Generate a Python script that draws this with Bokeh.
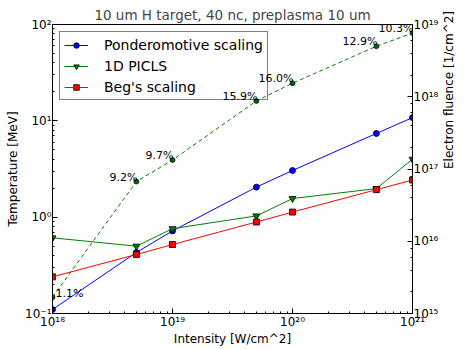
import math
from bokeh.plotting import figure
from bokeh.models import (Range1d, LogScale, LogAxis, Legend, LegendItem,
                          CustomJSTickFormatter, ColumnDataSource, LabelSet, Label)
from bokeh.core.properties import value
from bokeh.embed import file_html
from bokeh.resources import INLINE

# ---- data ----
intensity = [1e18, 5e18, 1e19, 5e19, 1e20, 5e20, 1e21]
ponderomotive = [0.11, 0.43, 0.72, 2.05, 3.05, 7.4, 10.8]
picls = [0.61, 0.50, 0.76, 1.03, 1.56, 1.98, 4.0]
beg = [0.24, 0.41, 0.52, 0.89, 1.13, 1.93, 2.43]
fluence = [1.68e15, 6.7e16, 1.33e17, 8.75e17, 1.54e18, 5.0e18, 7.6e18]
fraction_labels = ["1.1%", "9.2%", "9.7%", "15.9%", "16.0%", "12.9%", "10.3%"]

FONT = "DejaVu Sans"

sup_js = """
const e = Math.round(Math.log10(tick));
const sup = {"-":"\u207b","0":"\u2070","1":"\u00b9","2":"\u00b2","3":"\u00b3","4":"\u2074",
             "5":"\u2075","6":"\u2076","7":"\u2077","8":"\u2078","9":"\u2079"};
return "10" + String(e).split("").map(c => sup[c]).join("");
"""

p = figure(width=466, height=348, x_axis_type="log", y_axis_type="log",
           x_range=Range1d(1e18, 1e21), y_range=Range1d(0.1, 100),
           output_backend="svg", toolbar_location=None,
           title="10 um H target, 40 nc, preplasma 10 um",
           min_border_left=52, min_border_right=39, min_border_top=24, min_border_bottom=34)
p.extra_y_ranges = {"fluence": Range1d(1e15, 1e19)}
p.extra_y_scales = {"fluence": LogScale()}

p.title.align = "center"
p.title.text_font = FONT
p.title.text_font_size = "13.5px"
p.title.text_font_style = "normal"
p.title.standoff = 3
p.title.offset = 0

p.grid.visible = False
p.outline_line_color = "black"
p.background_fill_color = "white"
p.border_fill_color = "white"

fmt = CustomJSTickFormatter(code=sup_js)

def style_axis(ax):
    ax.major_tick_in = 5
    ax.major_tick_out = 0
    ax.minor_tick_in = 2
    ax.minor_tick_out = 0
    ax.axis_line_color = "black"
    ax.major_tick_line_color = "black"
    ax.minor_tick_line_color = "black"
    ax.major_label_text_font = FONT
    ax.major_label_text_font_size = "12px"
    ax.major_label_text_color = "black"
    ax.major_label_standoff = 1
    ax.axis_label_text_font = FONT
    ax.axis_label_text_font_size = "12px"
    ax.axis_label_text_font_style = "normal"
    ax.axis_label_text_color = "black"
    ax.axis_label_standoff = 0
    ax.formatter = fmt

xa = p.xaxis[0]
style_axis(xa)
xa.axis_label = "Intensity [W/cm^2]"
ya = p.yaxis[0]
style_axis(ya)
ya.axis_label = "Temperature [MeV]"
ya.axis_label_standoff = 2

right = LogAxis(y_range_name="fluence", axis_label="Electron fluence [1/cm^2]")
style_axis(right)
if "axis_label_orientation" in right.properties():
    right.axis_label_orientation = math.pi / 2
    right.axis_label_standoff = 8
p.add_layout(right, "right")

# ---- series ----
pl = p.line(intensity, ponderomotive, line_color="#0000ff", line_width=1)
ps = p.scatter(intensity, ponderomotive, marker="circle", size=6,
               fill_color="#0000ff", line_color="black", line_width=0.8)
gl = p.line(intensity, picls, line_color="#008000", line_width=1)
gs = p.scatter(intensity, picls, marker="inverted_triangle", size=7,
               fill_color="#008000", line_color="black", line_width=0.8)
rl = p.line(intensity, beg, line_color="#ff0000", line_width=1)
rs = p.scatter(intensity, beg, marker="square", size=6,
               fill_color="#ff0000", line_color="black", line_width=0.8)

fsrc = ColumnDataSource(dict(x=intensity, y=fluence, t=fraction_labels))
p.line("x", "y", source=fsrc, y_range_name="fluence", line_color="#008000",
       line_width=1, line_dash="4 3")
p.scatter("x", "y", source=fsrc, y_range_name="fluence", marker="circle", size=5,
          fill_color="#006400", line_color="black", line_width=0.6)

legend = Legend(items=[
    LegendItem(label="Ponderomotive scaling", renderers=[pl, ps]),
    LegendItem(label="1D PICLS", renderers=[gl, gs]),
    LegendItem(label="Beg's scaling", renderers=[rl, rs]),
], location="top_left")
legend.label_text_font = FONT
legend.label_text_font_size = "14px"
legend.label_text_color = "black"
legend.border_line_color = "black"
legend.border_line_width = 1
legend.background_fill_color = "white"
legend.background_fill_alpha = 0   # nothing lies under the box except the % labels
legend.margin = 7
legend.padding = 4
legend.spacing = 4
legend.glyph_width = 24
legend.glyph_height = 14
legend.label_height = 17
legend.label_standoff = 16
p.add_layout(legend, "center")

# percentage labels (the first one sits on the frame edge, so it goes right of its point)
inner = ColumnDataSource(dict(x=intensity[1:], y=fluence[1:], t=fraction_labels[1:]))
labels = LabelSet(x="x", y="y", text="t", source=inner, y_range_name="fluence",
                  text_align="right", text_baseline="alphabetic", text_font=value(FONT),
                  text_font_size="11px", text_color="black", x_offset=1, y_offset=1,
                  level="overlay")
p.add_layout(labels, "center")
first = Label(x=intensity[0], y=fluence[0], y_range_name="fluence", text=fraction_labels[0],
              text_align="left", text_baseline="alphabetic", text_font=FONT,
              text_font_size="11px", text_color="black", x_offset=3, y_offset=4,
              level="overlay")
p.add_layout(first, "center")

open("out.html", "w").write(file_html(p, INLINE))
